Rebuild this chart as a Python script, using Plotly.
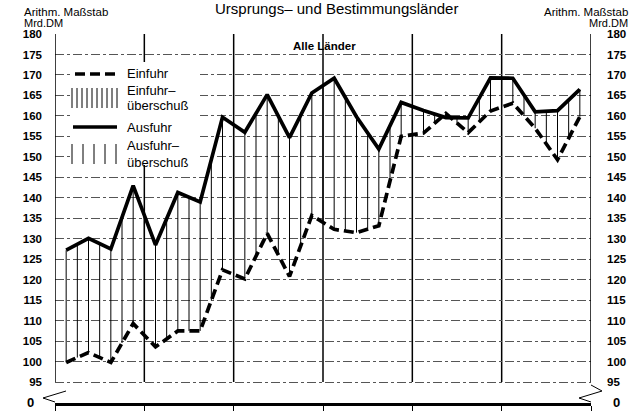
import numpy as np
import plotly.graph_objects as go

# Quartalswerte, 6 Jahre x 4 Quartale (Mrd. DM)
ausfuhr = [127.2, 130.1, 127.5, 143.0, 128.5, 141.3, 139.0, 159.7,
           156.0, 165.2, 154.7, 165.6, 169.2, 159.8, 151.9, 163.3,
           161.3, 159.6, 159.5, 169.3, 169.2, 161.0, 161.3, 166.5]
einfuhr = [99.8, 102.2, 99.8, 109.3, 103.6, 107.5, 107.5, 122.4,
           120.2, 131.3, 120.8, 135.7, 132.3, 131.5, 133.2, 155.0,
           155.8, 160.6, 155.9, 161.2, 163.1, 157.0, 149.3, 159.8]
y_ticks = list(range(95, 181, 5))
year_bounds = [0, 4, 8, 12, 16, 20, 24]

FONT = "Arial, Liberation Sans, sans-serif"
W, H = 644, 411
L, R, T, B = 55, 591, 34, 403   # plot area in pixels
Y_BOTTOM = 89.9                 # where the "0" base line sits


def px(x):
    return (x - L) / (R - L)


def py(y):
    return (B - y) / (B - T)


q = np.arange(len(ausfuhr)) + 0.5
a = np.array(ausfuhr)
e = np.array(einfuhr)

# hatching: Ausfuhrueberschuss every half quarter, Einfuhrueberschuss dense
hx, hy = [], []
for xv in np.arange(0.5, 23.51, 0.5):
    av, ev = np.interp(xv, q, a), np.interp(xv, q, e)
    if av > ev:
        hx += [xv, xv, None]
        hy += [ev, av, None]
for xv in np.arange(0.5, 23.51, 0.1):
    av, ev = np.interp(xv, q, a), np.interp(xv, q, e)
    if ev > av:
        hx += [xv, xv, None]
        hy += [av, ev, None]

fig = go.Figure()
fig.add_trace(go.Scatter(x=hx, y=hy, mode="lines",
                         line=dict(color="black", width=1),
                         hoverinfo="skip", showlegend=False))
fig.add_trace(go.Scatter(x=q, y=einfuhr, mode="lines", name="Einfuhr",
                         line=dict(color="black", width=3.7, dash="10px,5px"),
                         showlegend=False))
fig.add_trace(go.Scatter(x=q, y=ausfuhr, mode="lines", name="Ausfuhr",
                         line=dict(color="black", width=3.7),
                         showlegend=False))
# dummy trace for the right axis
fig.add_trace(go.Scatter(x=[q[0]], y=[ausfuhr[0]], yaxis="y2", mode="markers",
                         marker=dict(opacity=0), hoverinfo="skip", showlegend=False))

shapes = []
# year separators
for xb in year_bounds[1:-1]:
    shapes.append(dict(type="line", xref="x", yref="y", x0=xb, x1=xb, y0=95, y1=180,
                       line=dict(color="black", width=1.5), layer="below"))
# frame left / right
for xb in (0, 24):
    shapes.append(dict(type="line", xref="x", yref="y", x0=xb, x1=xb, y0=95, y1=180,
                       line=dict(color="black", width=1.5), layer="above"))
# white legend box (nothing of the data passes through it)
shapes.append(dict(type="rect", xref="paper", yref="paper",
                   x0=px(70), x1=px(200), y0=py(165), y1=py(62),
                   fillcolor="white", line=dict(width=0), layer="above"))
# axis break marks
shapes.append(dict(type="path", xref="paper", yref="paper",
                   path=f"M {px(66)},{py(391)} L {px(43)},{py(398)} L {px(55)},{py(402)}",
                   line=dict(color="black", width=1)))
shapes.append(dict(type="path", xref="paper", yref="paper",
                   path=f"M {px(591)},{py(385)} L {px(602)},{py(391)} L {px(579)},{py(398)} L {px(591)},{py(402)}",
                   line=dict(color="black", width=1)))
# legend samples
shapes.append(dict(type="line", xref="paper", yref="paper", x0=px(75), x1=px(117),
                   y0=py(74), y1=py(74), line=dict(color="black", width=3.7, dash="10px,5px")))
for xl in np.linspace(72, 117, 10):
    shapes.append(dict(type="line", xref="paper", yref="paper", x0=px(xl), x1=px(xl),
                       y0=py(88), y1=py(108), line=dict(color="black", width=1)))
shapes.append(dict(type="line", xref="paper", yref="paper", x0=px(73), x1=px(117),
                   y0=py(127), y1=py(127), line=dict(color="black", width=3.7)))
for xl in np.linspace(72, 116, 5):
    shapes.append(dict(type="line", xref="paper", yref="paper", x0=px(xl), x1=px(xl),
                       y0=py(144), y1=py(164), line=dict(color="black", width=1)))


def note(text, x, y, size, xanchor="left", bold=False):
    return dict(text=f"<b>{text}</b>" if bold else text, xref="paper", yref="paper",
                x=px(x), y=py(y), xanchor=xanchor, yanchor="middle", showarrow=False,
                font=dict(family=FONT, size=size, color="black"))


annotations = [
    note("Ursprungs– und Bestimmungsländer", 336, 9, 15, "center"),
    note("Arithm. Maßstab", 22, 12, 11.5),
    note("Mrd.DM", 22, 23, 11),
    note("Arithm. Maßstab", 630, 12, 11.5, "right"),
    note("Mrd.DM", 630, 23, 11, "right"),
    note("Alle Länder", 324, 46, 11.5, "center", bold=True),
    note("0", 30, 402, 13, "center", bold=True),
    note("0", 616, 402, 13, "center", bold=True),
    note("Einfuhr", 125, 73, 13),
    note("Einfuhr–", 125, 90, 13),
    note("überschuß", 125, 106, 13),
    note("Ausfuhr", 125, 127, 13),
    note("Ausfuhr–", 125, 145, 13),
    note("überschuß", 125, 162, 13),
]

fig.update_layout(
    width=W, height=H, autosize=False,
    margin=dict(l=L, r=W - R, t=T, b=H - B, pad=0, autoexpand=False),
    paper_bgcolor="white", plot_bgcolor="white",
    font=dict(family=FONT, color="black"),
    xaxis=dict(range=[0, 24], tickvals=year_bounds, showticklabels=False,
               ticks="outside", ticklen=8, tickwidth=1, tickcolor="black",
               showgrid=False, zeroline=False, automargin=False,
               showline=True, linewidth=3, linecolor="black"),
    yaxis=dict(range=[Y_BOTTOM, 180], tickvals=y_ticks, ticks="",
               ticklabelstandoff=12, automargin=False,
               tickfont=dict(family=FONT, size=11.5, weight="bold"),
               showgrid=True, gridcolor="#555", gridwidth=0.8, griddash="dashdot",
               zeroline=False, showline=False),
    yaxis2=dict(range=[Y_BOTTOM, 180], overlaying="y", side="right", matches="y",
                tickvals=y_ticks, ticks="", ticklabelstandoff=15, automargin=False,
                tickfont=dict(family=FONT, size=11.5, weight="bold"),
                showgrid=False, zeroline=False, showline=False),
    shapes=shapes,
    annotations=annotations,
)

# page has a default 8px body margin; remove it so the figure fills the window
fig.write_html("out.html", config={"displayModeBar": False},
               post_script="document.body.style.margin='0';")
